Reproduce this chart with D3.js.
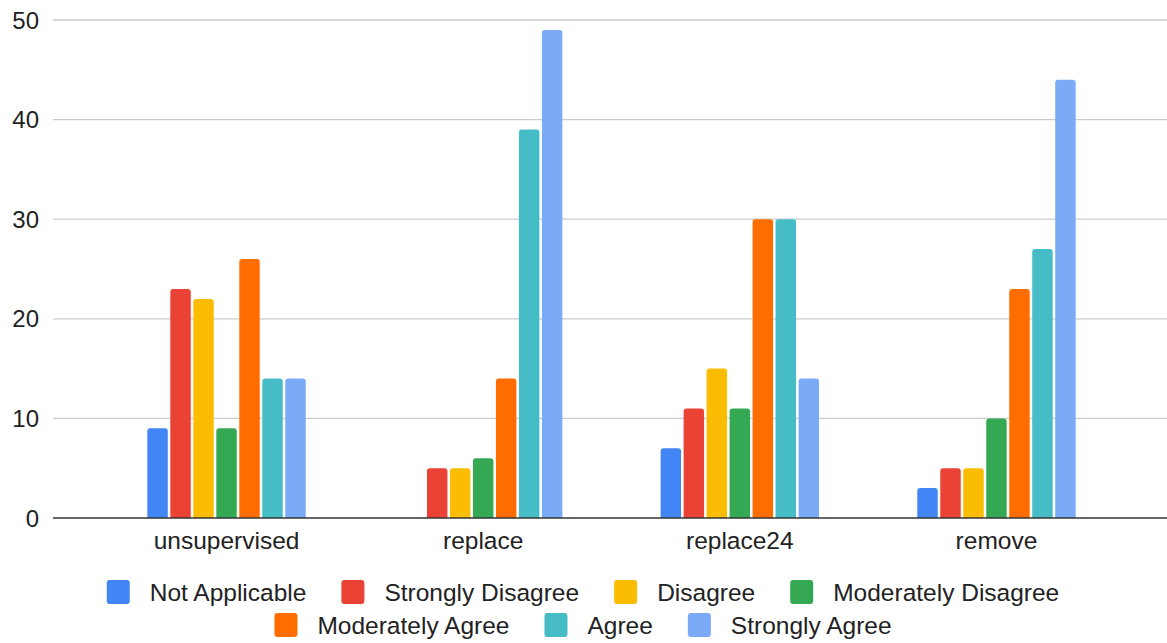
<!DOCTYPE html>
<html><head><meta charset="utf-8">
<script src="https://cdn.jsdelivr.net/npm/d3@7"></script>
<style>html,body{margin:0;padding:0;background:#fff;}svg{display:block;}</style>
</head><body>
<svg id="chart" width="1167" height="643"></svg>
<script>
const categories = ["unsupervised", "replace", "replace24", "remove"];
const seriesNames = ["Not Applicable", "Strongly Disagree", "Disagree", "Moderately Disagree", "Moderately Agree", "Agree", "Strongly Agree"];
const notApplicable      = [9, 0, 7, 3];
const stronglyDisagree   = [23, 5, 11, 5];
const disagree           = [22, 5, 15, 5];
const moderatelyDisagree = [9, 6, 11, 10];
const moderatelyAgree    = [26, 14, 30, 23];
const agree              = [14, 39, 30, 27];
const stronglyAgree      = [14, 49, 14, 44];
const yTicks = [0, 10, 20, 30, 40, 50];
const colors = ["#4285F4", "#EA4335", "#FBBC04", "#34A853", "#FF6D01", "#46BDC6", "#7BAAF7"];

const seriesValues = [notApplicable, stronglyDisagree, disagree, moderatelyDisagree, moderatelyAgree, agree, stronglyAgree];
const font = "'Liberation Sans', Arial, sans-serif";
const svg = d3.select("#chart");

const gridLeft = 53, gridRight = 1167;
const y = d3.scaleLinear().domain([0, 50]).range([518, 20]);
const x0 = d3.scaleBand().domain(categories).range([98.2, 1124.8]).padding(0);
const groupW = 158.4;
const x1 = d3.scaleBand().domain(seriesNames).range([0, groupW]).paddingInner(0.11).paddingOuter(0);

// gridlines
svg.append("g").selectAll("line").data(yTicks.filter(d => d !== 0)).join("line")
  .attr("x1", gridLeft).attr("x2", gridRight)
  .attr("y1", d => y(d)).attr("y2", d => y(d))
  .attr("stroke", "#cccccc").attr("stroke-width", 1.3);

// y tick labels
svg.append("g").selectAll("text").data(yTicks).join("text")
  .attr("x", 39).attr("y", d => y(d)).attr("dy", "0.36em")
  .attr("text-anchor", "end")
  .attr("font-family", font).attr("font-size", 24).attr("fill", "#222")
  .text(d => d);

// bars
const r = 3;
function barPath(x, yt, w, yb) {
  const h = yb - yt;
  if (h <= 0) return "";
  const rr = Math.min(r, h, w / 2);
  return `M${x},${yb}V${yt + rr}Q${x},${yt} ${x + rr},${yt}H${x + w - rr}Q${x + w},${yt} ${x + w},${yt + rr}V${yb}Z`;
}
const groups = svg.append("g").selectAll("g").data(categories).join("g")
  .attr("transform", c => `translate(${x0(c) + (x0.bandwidth() - groupW) / 2},0)`);
groups.each(function(c, ci) {
  d3.select(this).selectAll("path").data(seriesNames.map((s, si) => ({s, si, v: seriesValues[si][ci]})))
    .join("path")
    .attr("d", d => barPath(x1(d.s), y(d.v), x1.bandwidth(), y(0)))
    .attr("fill", d => colors[d.si]);
});

// baseline
svg.append("line").attr("x1", gridLeft).attr("x2", gridRight)
  .attr("y1", y(0)).attr("y2", y(0)).attr("stroke", "#333").attr("stroke-width", 1.5);

// category labels
svg.append("g").selectAll("text").data(categories).join("text")
  .attr("x", c => x0(c) + x0.bandwidth() / 2).attr("y", 549)
  .attr("text-anchor", "middle")
  .attr("font-family", font).attr("font-size", 24.5).attr("fill", "#222")
  .text(c => c);

// legend
const rows = [[0, 1, 2, 3], [4, 5, 6]];
const rowY = [592, 625];
const sw = 23, gapText = 20, itemGap = 35, center = 583;
rows.forEach((row, ri) => {
  const g = svg.append("g");
  let xpos = 0;
  row.forEach(si => {
    const it = g.append("g").attr("transform", `translate(${xpos},0)`);
    it.append("rect").attr("x", 0).attr("y", rowY[ri] - 12).attr("width", sw).attr("height", 24)
      .attr("rx", 3).attr("fill", colors[si]);
    const t = it.append("text").attr("x", sw + gapText).attr("y", rowY[ri]).attr("dy", "0.36em")
      .attr("font-family", font).attr("font-size", 24.5).attr("fill", "#222")
      .text(seriesNames[si]);
    xpos += sw + gapText + t.node().getComputedTextLength() + itemGap;
  });
  const total = xpos - itemGap;
  g.attr("transform", `translate(${center - total / 2},0)`);
});
</script>
</body></html>
